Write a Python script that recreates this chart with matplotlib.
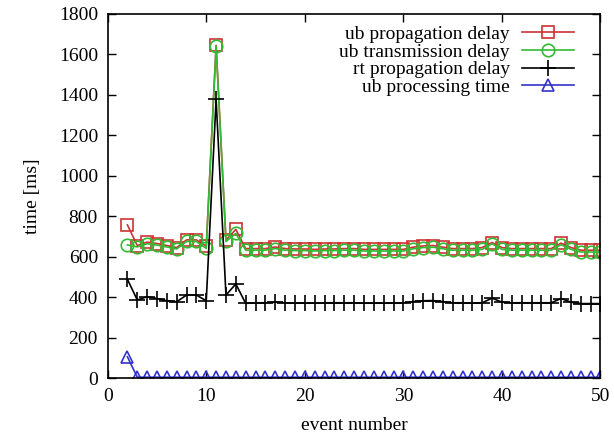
import matplotlib
matplotlib.use("Agg")
import matplotlib.pyplot as plt
import numpy as np


# event numbers 2..50
events = list(range(2, 51))

ub_prop = [757, 655, 672, 665, 655, 645, 683, 683, 652, 1645, 682, 735,
           640, 640, 640, 648, 640, 638, 638, 636, 638, 638, 640, 640, 636,
           636, 636, 636, 636, 647, 653, 655, 647, 640, 640, 640, 645, 670,
           645, 640, 640, 640, 640, 640, 667, 645, 632, 632, 632]

ub_trans = [658, 648, 664, 657, 648, 638, 675, 675, 641, 1640, 675, 715,
            632, 632, 632, 640, 632, 630, 630, 628, 630, 630, 632, 632, 628,
            628, 628, 628, 628, 639, 645, 647, 639, 632, 632, 632, 636, 664,
            636, 632, 632, 632, 632, 632, 659, 636, 623, 623, 623]

rt_prop = [488, 386, 402, 393, 382, 377, 410, 410, 382, 1378, 410, 465,
           369, 372, 372, 375, 372, 370, 370, 370, 372, 372, 372, 372, 370,
           370, 370, 370, 372, 378, 382, 383, 378, 372, 372, 370, 372, 395,
           375, 372, 372, 372, 372, 372, 393, 375, 368, 368, 368]

ub_proc = [105] + [4] * 48


def main():
    plt.rcParams['font.family'] = ['Liberation Serif', 'DejaVu Serif']
    plt.rcParams['font.size'] = 14

    fig = plt.figure(figsize=(6.14, 4.37), dpi=100)
    ax = fig.add_axes([0.1754, 0.135, 0.8026, 0.833])

    ms = 9
    lw = 1.2
    ax.plot(events, ub_prop, color='#cc3333', marker='s', ms=ms, mfc='none',
            mew=lw, lw=lw, label='ub propagation delay')
    ax.plot(events, ub_trans, color='#33bb33', marker='o', ms=ms, mfc='none',
            mew=lw, lw=lw, label='ub transmission delay')
    ax.plot(events, rt_prop, color='black', marker='+', ms=ms + 3,
            mew=lw, lw=lw, label='rt propagation delay')
    ax.plot(events, ub_proc, color='#3333cc', marker='^', ms=ms, mfc='none',
            mew=lw, lw=lw, label='ub processing time')

    ax.set_xlim(0, 50)
    ax.set_ylim(0, 1800)
    ax.set_xticks(np.arange(0, 51, 10))
    ax.set_yticks(np.arange(0, 1801, 200))
    ax.tick_params(direction='in', top=True, right=True, length=6, width=1,
                   pad=7)
    for s in ax.spines.values():
        s.set_linewidth(1.2)

    ax.set_xlabel('event number', labelpad=9)
    ax.set_ylabel('time [ms]', labelpad=13)

    ax.legend(loc='upper right', frameon=False, markerfirst=False,
              handlelength=2.7, handletextpad=0.6, labelspacing=0.0,
              borderaxespad=0.3, borderpad=0.3,
              bbox_to_anchor=(0.97, 1.0))

    fig.savefig('out.png', dpi=100)


if __name__ == '__main__':
    main()
